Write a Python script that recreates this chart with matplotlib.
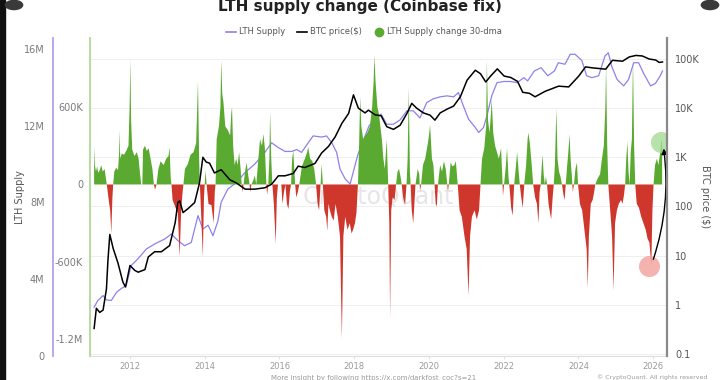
import numpy as np
import matplotlib
matplotlib.use("Agg")
import matplotlib.pyplot as plt
from matplotlib.lines import Line2D
from matplotlib.patches import Circle, Rectangle

# LTH supply change 30-dma (thousand BTC), decimal years
chg_t = [2011.04, 2011.06, 2011.09, 2011.12, 2011.15, 2011.19, 2011.23, 2011.27, 2011.32, 2011.36,
         2011.38, 2011.43, 2011.47, 2011.50, 2011.53, 2011.55, 2011.58, 2011.63, 2011.68, 2011.71,
         2011.72, 2011.74, 2011.78, 2011.84, 2011.90, 2011.96, 2011.99, 2012.01, 2012.03, 2012.06,
         2012.12, 2012.18, 2012.23, 2012.27, 2012.30, 2012.33, 2012.35, 2012.40, 2012.45, 2012.50,
         2012.55, 2012.60, 2012.64, 2012.67, 2012.71, 2012.76, 2012.82, 2012.90, 2012.97, 2013.03,
         2013.06, 2013.09, 2013.11, 2013.14, 2013.22, 2013.28, 2013.33, 2013.37, 2013.41, 2013.43,
         2013.47, 2013.55, 2013.62, 2013.70, 2013.77, 2013.82, 2013.85, 2013.87, 2013.90, 2013.95,
         2013.98, 2014.00, 2014.02, 2014.05, 2014.10, 2014.18, 2014.24, 2014.27, 2014.29, 2014.32,
         2014.38, 2014.42, 2014.44, 2014.47, 2014.50, 2014.55, 2014.62, 2014.68, 2014.71, 2014.73,
         2014.76, 2014.80, 2014.84, 2014.88, 2014.92, 2014.96, 2014.99, 2015.01, 2015.04, 2015.08,
         2015.12, 2015.16, 2015.20, 2015.22, 2015.25, 2015.31, 2015.34, 2015.38, 2015.43, 2015.48,
         2015.53, 2015.57, 2015.61, 2015.65, 2015.67, 2015.70, 2015.73, 2015.75, 2015.78, 2015.81,
         2015.85, 2015.90, 2015.93, 2015.96, 2016.05, 2016.08, 2016.12, 2016.16, 2016.20, 2016.24,
         2016.28, 2016.31, 2016.34, 2016.37, 2016.40, 2016.42, 2016.45, 2016.49, 2016.53, 2016.60,
         2016.68, 2016.74, 2016.77, 2016.82, 2016.88, 2016.93, 2016.98, 2017.02, 2017.06, 2017.10,
         2017.13, 2017.16, 2017.20, 2017.25, 2017.28, 2017.31, 2017.35, 2017.40, 2017.45, 2017.50,
         2017.56, 2017.62, 2017.67, 2017.71, 2017.76, 2017.82, 2017.88, 2017.93, 2017.97, 2018.02,
         2018.06, 2018.10, 2018.13, 2018.16, 2018.19, 2018.24, 2018.30, 2018.35, 2018.42, 2018.48,
         2018.52, 2018.54, 2018.57, 2018.62, 2018.66, 2018.70, 2018.74, 2018.78, 2018.82, 2018.87,
         2018.91, 2018.94, 2018.96, 2018.99, 2019.03, 2019.08, 2019.12, 2019.16, 2019.20, 2019.24,
         2019.27, 2019.31, 2019.36, 2019.40, 2019.43, 2019.46, 2019.49, 2019.51, 2019.54, 2019.58,
         2019.61, 2019.64, 2019.70, 2019.74, 2019.76, 2019.79, 2019.84, 2019.90, 2019.96, 2020.00,
         2020.03, 2020.08, 2020.12, 2020.15, 2020.18, 2020.21, 2020.24, 2020.30, 2020.35, 2020.40,
         2020.45, 2020.49, 2020.51, 2020.53, 2020.58, 2020.63, 2020.68, 2020.72, 2020.77, 2020.82,
         2020.88, 2020.95, 2021.01, 2021.06, 2021.10, 2021.15, 2021.22, 2021.28, 2021.34, 2021.38,
         2021.42, 2021.48, 2021.53, 2021.55, 2021.58, 2021.62, 2021.66, 2021.68, 2021.72, 2021.77,
         2021.82, 2021.87, 2021.93, 2021.96, 2021.98, 2022.01, 2022.06, 2022.09, 2022.13, 2022.15,
         2022.20, 2022.24, 2022.28, 2022.33, 2022.36, 2022.40, 2022.43, 2022.47, 2022.51, 2022.55,
         2022.60, 2022.64, 2022.66, 2022.70, 2022.75, 2022.79, 2022.84, 2022.89, 2022.93, 2022.96,
         2022.99, 2023.02, 2023.04, 2023.07, 2023.10, 2023.13, 2023.16, 2023.20, 2023.27, 2023.31,
         2023.34, 2023.37, 2023.41, 2023.44, 2023.48, 2023.52, 2023.56, 2023.60, 2023.63, 2023.66,
         2023.70, 2023.73, 2023.76, 2023.79, 2023.82, 2023.85, 2023.88, 2023.92, 2023.96, 2023.99,
         2024.04, 2024.10, 2024.16, 2024.22, 2024.25, 2024.28, 2024.33, 2024.38, 2024.42, 2024.45,
         2024.52, 2024.58, 2024.63, 2024.68, 2024.72, 2024.74, 2024.77, 2024.80, 2024.85, 2024.90,
         2024.94, 2024.98, 2025.03, 2025.08, 2025.14, 2025.18, 2025.22, 2025.25, 2025.28, 2025.31,
         2025.34, 2025.37, 2025.40, 2025.43, 2025.46, 2025.49, 2025.52, 2025.56, 2025.62, 2025.68,
         2025.74, 2025.80, 2025.85, 2025.90, 2025.95, 2025.98, 2026.01, 2026.05, 2026.10, 2026.14,
         2026.19, 2026.22, 2026.24]
chg_v = [300, 150, 100, 140, 90, 110, 150, 100, 120, 40,
         0, -120, -200, -380, -100, 0, 100, 130, 110, 250,
         420, 200, 240, 230, 260, 300, 600, 970, 500, 270,
         220, 250, 200, 80, 0, 0, 270, 300, 260, 280,
         200, 120, 0, -40, 0, 120, 180, 150, 200, 220,
         290, 50, 0, -120, -180, -220, -560, -200, -50, 0,
         120, 160, 230, 250, 320, 800, 200, 0, -200, -560,
         -100, 0, 110, 0, -150, -160, -300, -50, 0, 350,
         450, 600, 960, 700, 640, 450, 420, 380, 550, 600,
         300, 150, 200, 150, 250, 120, 0, -60, 0, 100,
         170, 80, 0, -60, 0, 40, 70, 0, 180, 350,
         300, 390, 280, 0, -80, 0, 200, 560, 200, 0,
         -150, -460, -100, 0, 0, -150, -60, 0, -150, -190,
         -50, 0, 200, 260, 100, 0, -100, -60, 0, 140,
         200, 250, 290, 200, 180, 120, 0, -150, -200, 0,
         160, 0, -200, -250, -360, -150, -200, -250, -280, -150,
         -250, -400, -1195, -400, -250, -350, -300, -380, -350, -300,
         -220, 0, 300, 680, 450, 350, 380, 400, 450, 600,
         800, 1000, 800, 600, 550, 450, 350, 200, 120, 350,
         0, -300, -1030, -200, -100, -120, 0, 100, 120, 60,
         0, -100, -160, 0, 200, 750, 100, 0, -200, -300,
         -150, 0, 120, 80, -50, 0, 150, 200, 300, 380,
         460, 200, 150, 0, -150, -170, 0, 150, 100, 180,
         120, 0, -50, 0, 170, 140, 150, 180, 0, -200,
         -250, -400, -500, -860, -400, -250, -200, -270, -200, 0,
         200, 280, 450, 960, 500, 400, 550, 660, 400, 300,
         250, 200, 280, 80, -90, 0, 150, 280, 50, 0,
         -180, -240, 0, 150, 250, 100, 0, -100, -180, 0,
         150, 350, 400, 320, 150, 0, -100, -150, -300, -60,
         0, 150, 230, 80, 0, 60, 0, -150, -270, -100,
         0, 150, 590, 200, 100, 60, 0, -80, -120, 0,
         150, 250, 390, 200, 80, -60, 0, 120, 170, 0,
         -150, -200, -350, -500, -800, -400, -150, -120, -60, 0,
         50, 80, 200, 300, 600, 920, 300, 0, -200, -400,
         -820, -300, -200, -150, -120, -150, -80, 0, 200, 330,
         100, 0, 250, 350, 970, 300, 0, -150, -180, -250,
         -300, -350, -420, -450, -630, -200, 0, 150, 200, 150,
         250, 330, 350]

# BTC price ($)
btc_t = [2011.04, 2011.10, 2011.19, 2011.28, 2011.37, 2011.41, 2011.46, 2011.55, 2011.68, 2011.81,
         2011.88, 2012.00, 2012.13, 2012.22, 2012.40, 2012.49, 2012.66, 2012.84, 2013.06, 2013.21,
         2013.28, 2013.33, 2013.42, 2013.55, 2013.73, 2013.86, 2013.95, 2014.04, 2014.13, 2014.26,
         2014.44, 2014.67, 2014.85, 2015.08, 2015.34, 2015.61, 2015.79, 2015.97, 2016.15, 2016.37,
         2016.50, 2016.68, 2016.95, 2017.13, 2017.31, 2017.49, 2017.67, 2017.85, 2017.98, 2018.11,
         2018.29, 2018.38, 2018.56, 2018.72, 2018.87, 2019.05, 2019.23, 2019.41, 2019.54, 2019.67,
         2019.85, 2020.03, 2020.16, 2020.30, 2020.48, 2020.66, 2020.84, 2021.02, 2021.24, 2021.38,
         2021.52, 2021.65, 2021.83, 2022.01, 2022.19, 2022.37, 2022.51, 2022.69, 2022.84, 2023.11,
         2023.47, 2023.74, 2024.01, 2024.19, 2024.37, 2024.73, 2024.91, 2025.18, 2025.36, 2025.54,
         2025.71, 2025.89, 2026.07, 2026.16, 2026.25]
btc_p = [0.33, 0.85, 0.7, 0.78, 2.1, 8, 27, 14, 7, 2.9,
         2.3, 6.3, 5, 4.6, 5.2, 9.4, 12, 12, 16, 47,
         120, 130, 75, 90, 120, 300, 1000, 800, 760, 480,
         560, 350, 300, 225, 225, 240, 283, 420, 420, 470,
         660, 620, 750, 1230, 1660, 2600, 4900, 7800, 18600, 10000,
         8000, 9100, 7300, 7000, 4200, 3700, 4500, 7800, 12500, 10000,
         8000, 7200, 5700, 8000, 9500, 11000, 17000, 37000, 59000, 50000,
         34000, 45000, 63000, 45000, 42000, 35000, 21000, 20000, 17000, 22000,
         28000, 27000, 45000, 69000, 66000, 62000, 94000, 90000, 110000, 118000,
         115000, 100000, 95000, 85000, 87000]

# LTH supply (million BTC)
lth_t = [2011.04, 2011.14, 2011.28, 2011.37, 2011.50, 2011.64, 2011.77, 2011.90, 2012.03, 2012.21,
         2012.44, 2012.66, 2012.93, 2013.11, 2013.28, 2013.46, 2013.64, 2013.82, 2013.95, 2014.09,
         2014.22, 2014.35, 2014.44, 2014.62, 2014.85, 2015.08, 2015.34, 2015.61, 2015.79, 2015.97,
         2016.15, 2016.33, 2016.46, 2016.59, 2016.77, 2016.90, 2017.13, 2017.26, 2017.40, 2017.53,
         2017.62, 2017.76, 2017.89, 2018.10, 2018.40, 2018.72, 2018.87, 2019.05, 2019.23, 2019.41,
         2019.58, 2019.76, 2019.94, 2020.12, 2020.30, 2020.48, 2020.66, 2020.79, 2020.92, 2021.06,
         2021.24, 2021.33, 2021.46, 2021.55, 2021.68, 2021.82, 2022.00, 2022.18, 2022.36, 2022.54,
         2022.64, 2022.82, 2023.00, 2023.18, 2023.36, 2023.46, 2023.64, 2023.78, 2023.91, 2024.09,
         2024.22, 2024.36, 2024.54, 2024.71, 2024.80, 2024.89, 2025.03, 2025.21, 2025.34, 2025.48,
         2025.61, 2025.75, 2025.93, 2026.06, 2026.19, 2026.25]
lth_m = [2.52, 2.87, 3.13, 2.9, 2.87, 3.3, 3.5, 3.65, 4.69, 5.04,
         5.56, 5.82, 6.08, 6.34, 6.0, 5.73, 5.9, 7.3, 6.6, 6.8,
         6.25, 7.0, 8.0, 8.69, 9.03, 9.55, 9.99, 10.6, 11.1, 10.85,
         10.65, 10.65, 10.75, 10.6, 11.1, 11.46, 11.4, 11.46, 11.1, 10.6,
         9.73, 9.21, 8.95, 10.5, 12.0, 12.6, 12.07, 12.07, 12.3, 12.77,
         12.77, 12.4, 13.2, 13.4, 13.5, 13.55, 13.5, 13.72, 13.03, 12.33,
         11.9, 11.64, 11.9, 12.5, 13.55, 14.24, 14.3, 14.3, 14.24, 14.5,
         14.33, 14.85, 15.02, 14.6, 14.85, 15.28, 15.2, 15.72, 15.72, 15.4,
         14.6, 14.5, 14.6, 15.63, 15.8, 15.1, 14.42, 14.07, 14.4, 15.28,
         15.28, 14.7, 14.07, 14.2, 14.6, 14.85]

year_ticks = [2012, 2014, 2016, 2018, 2020, 2022, 2024, 2026]
lth_ticks = [0, 4e6, 8e6, 12e6, 16e6]
lth_labels = ['0', '4M', '8M', '12M', '16M']
chg_ticks = [-1.2e6, -6e5, 0, 6e5]
chg_labels = ['-1.2M', '-600K', '0', '600K']
btc_ticks = [0.1, 1, 10, 100, 1e3, 1e4, 1e5]
btc_labels = ['0.1', '1', '10', '100', '1K', '10K', '100K']

GREEN = '#5aaa32'
RED = '#cf372d'
PURPLE = '#8c82ee'
TXT = '#7a7a7a'

chg_x = np.array(chg_t)
chg_y = np.array(chg_v) * 1000.0

fig = plt.figure(figsize=(7.2, 3.8), dpi=100)
fig.patch.set_facecolor('white')

top_px, bot_px = 38, 355.5
ax_l = fig.add_axes([90 / 720, 1 - bot_px / 380, 577 / 720, (bot_px - top_px) / 380])
ax = ax_l.twinx()
ax_r = ax_l.twinx()
ax_l.set_zorder(1)
ax.set_zorder(2)
ax_r.set_zorder(3)
ax.patch.set_visible(False)
ax_r.patch.set_visible(False)

xlo, xhi = 2010.93, 2026.37

# LTH supply (purple, underneath)
ax_l.plot(lth_t, np.array(lth_m) * 1e6, color=PURPLE, lw=0.9)
ax_l.set_ylim(0, 16.57e6)
ax_l.set_yticks(lth_ticks)
ax_l.set_yticklabels(lth_labels)
ax_l.yaxis.set_label_position('left')
ax_l.yaxis.tick_left()
for s in ['top', 'right']:
    ax_l.spines[s].set_visible(False)
ax_l.spines['left'].set_position(('outward', 37 * 0.72))
ax_l.spines['left'].set_color('#a59cf0')
ax_l.spines['left'].set_linewidth(1.2)
ax_l.tick_params(axis='y', length=0, pad=6, labelsize=7, labelcolor=TXT)
ax_l.set_ylabel('LTH Supply', fontsize=7, color='#555555', labelpad=-1)

# log-decade gridlines of the price axis, drawn in the bottom layer
blo, bhi = 0.093, 2.67e5
for v in btc_ticks:
    f = (np.log10(v) - np.log10(blo)) / (np.log10(bhi) - np.log10(blo))
    ax_l.plot([0, 1], [f, f], transform=ax_l.transAxes, color='#efefef', lw=0.7, zorder=0)

# LTH supply change 30-dma
ax.fill_between(chg_x, chg_y, 0, where=chg_y >= 0, interpolate=True, color=GREEN, lw=0)
ax.fill_between(chg_x, chg_y, 0, where=chg_y <= 0, interpolate=True, color=RED, lw=0)
ax.set_ylim(-1.324e6, 1.134e6)
ax.set_yticks(chg_ticks)
ax.set_yticklabels(chg_labels)
ax.yaxis.tick_left()
for s in ['top', 'right', 'bottom']:
    ax.spines[s].set_visible(False)
ax.spines['left'].set_color('#b0d898')
ax.spines['left'].set_linewidth(1.3)
ax.tick_params(axis='y', length=0, pad=5, labelsize=7, labelcolor=TXT)

# highlight circles + arrow
ax.scatter([2025.89], [-631e3], s=230, color='#f29a94', alpha=0.75, lw=0, zorder=5)
ax.scatter([2026.22], [329e3], s=230, color='#9fd98f', alpha=0.75, lw=0, zorder=5)
ax.annotate('', xy=(2026.27, 300e3), xytext=(2025.98, -600e3),
            arrowprops=dict(arrowstyle='-|>', color='black', lw=1.0,
                            connectionstyle='arc3,rad=0.12', mutation_scale=8),
            zorder=6)

# BTC price (black, on top)
ax_r.plot(btc_t, btc_p, color='black', lw=1.1)
ax_r.set_yscale('log')
ax_r.set_ylim(blo, bhi)
ax_r.set_yticks(btc_ticks)
ax_r.set_yticklabels(btc_labels)
ax_r.minorticks_off()
for s in ['top', 'left', 'bottom']:
    ax_r.spines[s].set_visible(False)
ax_r.spines['right'].set_color('#8a8a8a')
ax_r.spines['right'].set_linewidth(1.6)
ax_r.tick_params(axis='y', length=0, pad=6, labelsize=7, labelcolor='#555555')
ax_r.set_ylabel('BTC price ($)', fontsize=7, color='#555555', rotation=270, labelpad=7)

# x axis
ax_l.set_xlim(xlo, xhi)
ax_l.set_xticks(year_ticks)
ax_l.set_xticklabels([str(y) for y in year_ticks])
ax_l.spines['bottom'].set_color('#dddddd')
ax_l.tick_params(axis='x', length=2, color='#e4e4e4', labelsize=6, labelcolor='#9a9a9a', pad=3)

# watermark
ax_l.text(0.5, 0.5, 'CryptoQuant', transform=ax_l.transAxes, fontsize=17,
          color='#e6e6e6', ha='center', va='center', zorder=0.5)

# title, legend, footer
fig.text(0.5, 1 - 11.5 / 380, 'LTH supply change (Coinbase fix)', ha='center',
         va='baseline', fontsize=11, fontweight='bold', color='#222222')
handles = [Line2D([], [], color=PURPLE, lw=1.2),
           Line2D([], [], color='black', lw=1.2),
           Line2D([], [], marker='o', ls='', color=GREEN, markersize=6)]
fig.legend(handles, ['LTH Supply', 'BTC price($)', 'LTH Supply change 30-dma'],
           loc='center', bbox_to_anchor=(364 / 720, 1 - 32 / 380), ncol=3, frameon=False,
           fontsize=6, labelcolor='#555555', handlelength=1.2, handletextpad=0.4,
           columnspacing=1.4)
fig.text(374 / 720, 1 - 377.5 / 380, 'More insight by following https://x.com/darkfost_coc?s=21',
         ha='center', va='center', fontsize=5, color='#9a9a9a')
fig.text(707 / 720, 1 - 377.5 / 380, '\u00a9 CryptoQuant. All rights reserved', ha='right',
         va='center', fontsize=4.5, color='#9a9a9a')

# screenshot frame bits
fig.patches.append(Rectangle((0, 0), 5 / 720, 1, transform=fig.transFigure,
                             color='#111111', zorder=10))
for cx in [14, 710]:
    fig.patches.append(Circle((cx / 720, 1 - 5 / 380), 0.012, transform=fig.transFigure,
                              color='#3a3a3a', zorder=10))

plt.savefig('out.png', dpi=100)
